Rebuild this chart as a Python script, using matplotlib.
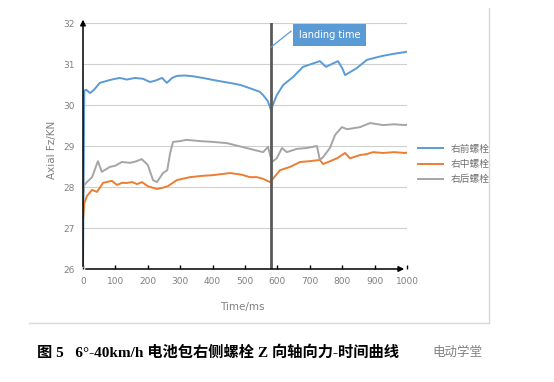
import matplotlib
matplotlib.use("Agg")
from matplotlib import pyplot as plt
from matplotlib.lines import Line2D

plt.rcParams['font.family'] = ['DejaVu Sans', 'Noto Sans CJK SC']

# series (time in ms, force in kN)
front_t = [0, 4, 10, 22, 35, 52, 70, 83, 100, 114, 135, 160, 185, 207, 225, 244, 259, 275, 290, 315, 340,
           370, 402, 430, 460, 485, 515, 546, 556, 570, 580, 590, 598, 618, 648, 679, 705, 731, 750, 768,
           787, 800, 809, 824, 845, 876, 900, 926, 960, 994, 1000]
front_f = [26.05, 30.35, 30.37, 30.29, 30.38, 30.54, 30.58, 30.61, 30.64, 30.66, 30.62, 30.66, 30.64, 30.56,
           30.6, 30.66, 30.54, 30.66, 30.71, 30.72, 30.7, 30.66, 30.61, 30.57, 30.53, 30.49, 30.41, 30.32,
           30.24, 30.1, 29.88, 30.08, 30.24, 30.49, 30.68, 30.93, 31.0, 31.07, 30.93, 31.0, 31.07, 30.9,
           30.73, 30.8, 30.9, 31.1, 31.15, 31.2, 31.25, 31.29, 31.3]

mid_t = [0, 4, 12, 28, 43, 62, 89, 105, 120, 136, 152, 167, 182, 200, 228, 245, 262, 290, 330, 365, 402,
         454, 490, 515, 537, 556, 577, 586, 608, 639, 670, 700, 731, 741, 760, 784, 809, 824, 855, 875,
         895, 926, 960, 994, 1000]
mid_f = [27.2, 27.6, 27.78, 27.93, 27.88, 28.1, 28.15, 28.05, 28.1, 28.1, 28.12, 28.07, 28.12, 28.02,
         27.95, 27.98, 28.02, 28.17, 28.24, 28.27, 28.29, 28.34, 28.3, 28.24, 28.24, 28.2, 28.12, 28.2,
         28.41, 28.49, 28.61, 28.63, 28.66, 28.56, 28.62, 28.7, 28.83, 28.7, 28.78, 28.8, 28.85, 28.83,
         28.85, 28.83, 28.84]

rear_t = [0, 4, 12, 28, 46, 58, 83, 100, 120, 145, 162, 181, 200, 216, 228, 247, 260, 269, 278, 300, 320,
          360, 400, 444, 480, 515, 556, 571, 583, 598, 614, 629, 660, 690, 722, 731, 741, 762, 778, 799,
          815, 855, 886, 926, 960, 994, 1000]
rear_f = [27.8, 28.05, 28.12, 28.24, 28.63, 28.37, 28.49, 28.52, 28.61, 28.59, 28.62, 28.68, 28.54,
          28.17, 28.12, 28.34, 28.41, 28.83, 29.1, 29.12, 29.15, 29.12, 29.1, 29.07, 29.0, 28.93, 28.85,
          28.98, 28.61, 28.7, 28.95, 28.85, 28.93, 28.95, 29.0, 28.66, 28.73, 28.95, 29.27, 29.46, 29.41,
          29.46, 29.56, 29.51, 29.53, 29.51, 29.52]

series_names = ['右前螺栓', '右中螺栓', '右后螺栓']
series_colors = ['#5B9BD5', '#ED7D31', '#A5A5A5']
x_ticks = list(range(0, 1001, 100))
y_ticks = [26, 27, 28, 29, 30, 31, 32]
landing_t = 580


def main():
    fig = plt.figure(figsize=(5.54, 3.82), dpi=100)
    W, H = 554, 382
    ax = fig.add_axes([83 / W, 1 - 269 / H, 324 / W, 246 / H])

    ax.set_xlim(0, 1000)
    ax.set_ylim(26, 32)
    for v in y_ticks[1:]:
        ax.axhline(v, color='#D0D0D0', lw=0.8, zorder=0)

    for t, f, name, c in zip([front_t, mid_t, rear_t], [front_f, mid_f, rear_f], series_names, series_colors):
        ax.plot(t, f, color=c, lw=1.4, label=name, zorder=3)

    ax.axvline(landing_t, color='#5A5A5A', lw=2, zorder=4)

    # axis arrows instead of spines
    for s in ax.spines.values():
        s.set_visible(False)
    ax.annotate('', xy=(0, 32.15), xytext=(0, 26), annotation_clip=False,
                arrowprops=dict(arrowstyle='-|>', color='black', lw=1.1, mutation_scale=8), zorder=5)
    ax.annotate('', xy=(1000, 26), xytext=(0, 26), annotation_clip=False,
                arrowprops=dict(arrowstyle='-|>', color='black', lw=1.1, mutation_scale=8), zorder=5)

    ax.set_xticks(x_ticks)
    ax.set_yticks(y_ticks)
    ax.tick_params(axis='x', direction='in', length=3, width=1, color='black',
                   labelsize=6.5, labelcolor='#808080', pad=6)
    ax.tick_params(axis='y', length=0, labelsize=6.5, labelcolor='#808080', pad=6)

    # landing time callout
    ax.plot([landing_t, 642], [31.41, 31.8], color='#5B9BD5', lw=0.9, zorder=4)
    ax.text(762, 31.7, 'landing time', color='white', fontsize=7, ha='center', va='center', zorder=6,
            bbox=dict(boxstyle='square,pad=0.6', fc='#5B9BD5', ec='none'))

    fig.text(52 / W, 1 - 150 / H, 'Axial Fz/KN', rotation=90, ha='center', va='center',
             fontsize=7.5, color='#808080')
    fig.text(242 / W, 1 - 307 / H, 'Time/ms', ha='center', va='center', fontsize=7.5, color='#808080')

    leg = ax.legend(loc='center left', bbox_to_anchor=(414 / W, 1 - 164 / H), bbox_transform=fig.transFigure,
                    frameon=False, handlelength=2.6, labelspacing=0.55, borderaxespad=0,
                    prop={'family': ['Noto Sans CJK SC'], 'size': 7})
    for txt in leg.get_texts():
        txt.set_color('#707070')

    # outer frame of the embedded chart
    fig.add_artist(Line2D([29 / W, 489 / W], [1 - 323 / H, 1 - 323 / H], color='#D9D9D9', lw=1))
    fig.add_artist(Line2D([489 / W, 489 / W], [1 - 8 / H, 1 - 323 / H], color='#D9D9D9', lw=1))

    fig.text(37 / W, 1 - 352 / H, '图 5   6°-40km/h 电池包右侧螺栓 Z 向轴向力-时间曲线', ha='left', va='center',
             fontsize=11, fontweight='bold', color='black', family=['Liberation Serif', 'Noto Sans CJK SC'])
    fig.text(432 / W, 1 - 352 / H, '电动学堂', ha='left', va='center', fontsize=9, color='#808080',
             family=['Noto Sans CJK SC'])

    fig.savefig('out.png', dpi=100)


if __name__ == "__main__":
    main()
